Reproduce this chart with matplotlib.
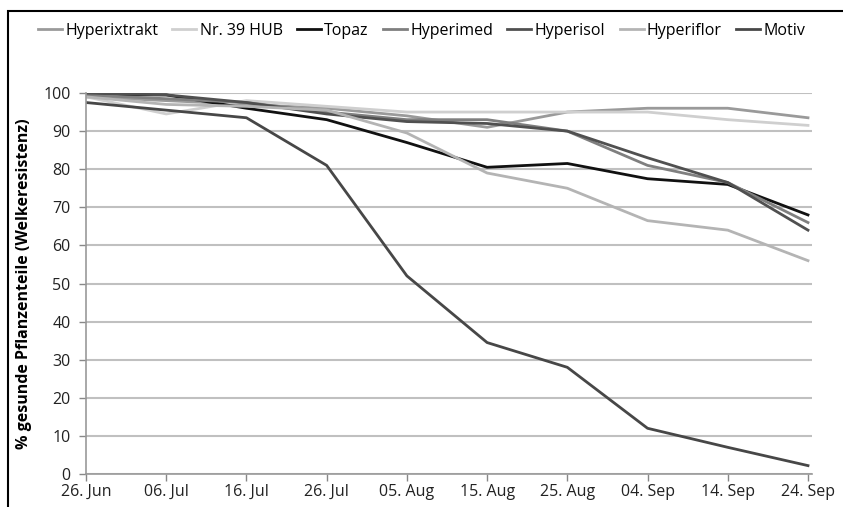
import matplotlib
matplotlib.use("Agg")
import matplotlib.pyplot as plt
from matplotlib.patches import Rectangle

plt.rcParams['font.family'] = ['Open Sans', 'DejaVu Sans']

dates = ["26. Jun", "06. Jul", "16. Jul", "26. Jul", "05. Aug", "15. Aug",
         "25. Aug", "04. Sep", "14. Sep", "24. Sep"]

hyperixtrakt = [99, 98, 97, 96, 94, 91, 95, 96, 96, 93.5]
nr39hub = [99, 94.5, 98, 96.5, 95, 95, 95, 95, 93, 91.5]
topaz = [99.5, 99.5, 96, 93, 87, 80.5, 81.5, 77.5, 76, 68]
hyperimed = [99.5, 98.5, 97.5, 95, 93, 93, 90, 81, 76.5, 66]
hyperisol = [100, 99.5, 97.5, 94.5, 92.5, 92, 90, 83, 76.5, 64]
hyperiflor = [99, 97, 96.5, 95.5, 89.5, 79, 75, 66.5, 64, 56]
motiv = [97.5, 95.5, 93.5, 81, 52, 34.5, 28, 12, 7, 2.2]

names = ["Hyperixtrakt", "Nr. 39 HUB", "Topaz", "Hyperimed", "Hyperisol", "Hyperiflor", "Motiv"]
series = [hyperixtrakt, nr39hub, topaz, hyperimed, hyperisol, hyperiflor, motiv]
colors = ["#9a9a9a", "#cfcfcf", "#111111", "#7f7f7f", "#505050", "#b4b4b4", "#474747"]
yticks = list(range(0, 101, 10))

fig = plt.figure(figsize=(8.43, 5.07), dpi=100)
ax = fig.add_axes([86/843, 1-474/507, (812-86)/843, (474-93)/507])

x = list(range(len(dates)))
for name, vals, c in zip(names, series, colors):
    ax.plot(x, vals, color=c, lw=2.0, label=name, solid_joinstyle='round')

ax.set_xlim(0, 9.05)
ax.set_ylim(0, 100)
ax.set_yticks(yticks)
ax.set_xticks(x)
ax.set_xticklabels(dates, fontsize=11.5, color='#222222')
ax.tick_params(axis='y', labelsize=11.5, colors='#888888', labelcolor='#222222', length=5, width=1, pad=6)
ax.tick_params(axis='x', colors='#888888', labelcolor='#222222', length=5, width=1, pad=2)
ax.grid(axis='y', color='#c0c0c0', lw=1.5)
ax.set_axisbelow(True)
for s in ['top', 'right']:
    ax.spines[s].set_visible(False)
ax.spines['left'].set_color('#999999')
ax.spines['bottom'].set_color('#999999')
ax.spines['left'].set_linewidth(1.2)
ax.spines['bottom'].set_linewidth(1.2)
ax.set_ylabel('% gesunde Pflanzenteile (Welkeresistenz)', fontsize=11.5, fontweight='bold', labelpad=8)

leg = fig.legend(loc='center', bbox_to_anchor=(0.5, 1-31/507), ncol=7, frameon=False,
                 fontsize=11.5, handlelength=1.5, handletextpad=0.2, columnspacing=0.9)

fig.patches.append(Rectangle((8/843, -0.1), 1.2, 1-11/507+0.1, transform=fig.transFigure,
                             fill=False, edgecolor='black', lw=1.5))

fig.savefig('out.png', dpi=100)
